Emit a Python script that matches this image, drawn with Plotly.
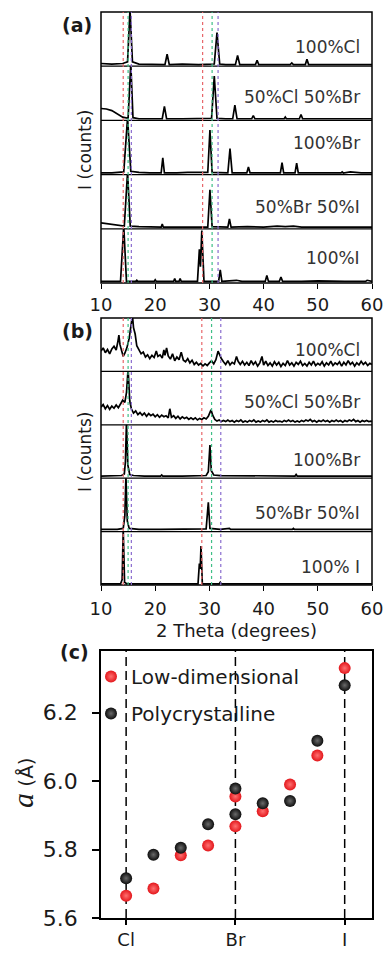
import plotly.graph_objects as go

# ---------------- data ----------------
two_theta_ticks = [10, 20, 30, 40, 50, 60]
labels_a = ["100%Cl", "50%Cl 50%Br", "100%Br", "50%Br 50%I", "100%I"]
labels_b = ["100%Cl", "50%Cl 50%Br", "100%Br", "50%Br 50%I", "100% I"]

# panel (a): (2theta, normalized intensity)
a_cl = [(10, 0.05), (12, 0.04), (14, 0.05), (14.9, 0.08), (15.35, 1.05), (15.8, 0.08), (17, 0.04), (19.5, 0.03),
        (21.8, 0.03), (22.2, 0.22), (22.6, 0.03), (25, 0.04), (28, 0.03), (30.9, 0.04), (31.4, 0.62), (31.9, 0.04),
        (33, 0.03), (34.8, 0.03), (35.2, 0.20), (35.6, 0.03), (37, 0.03), (38.5, 0.03), (38.8, 0.11), (39.1, 0.03),
        (42, 0.03), (44.9, 0.03), (45.2, 0.06), (45.5, 0.03), (47.7, 0.03), (48.0, 0.13), (48.3, 0.03), (51, 0.03),
        (54, 0.04), (57, 0.03), (60, 0.03)]
a_clbr = [(10, 0.22), (11, 0.21), (12, 0.18), (13, 0.12), (14, 0.06), (15, 0.04), (15.5, 1.05), (15.9, 0.05),
          (17, 0.03), (19, 0.03), (21.3, 0.03), (21.7, 0.26), (22.1, 0.03), (25, 0.03), (28, 0.03), (30.4, 0.04),
          (30.9, 0.82), (31.4, 0.04), (33, 0.03), (34.3, 0.03), (34.7, 0.28), (35.1, 0.03), (37.8, 0.03), (38.1, 0.09),
          (38.4, 0.03), (41, 0.03), (43.8, 0.03), (44.0, 0.06), (44.2, 0.03), (46.6, 0.03), (46.9, 0.11), (47.2, 0.03),
          (50, 0.03), (53, 0.04), (56, 0.03), (60, 0.03)]
a_br = [(10, 0.03), (12, 0.03), (14.2, 0.05), (14.9, 1.05), (15.5, 0.06), (17, 0.04), (19, 0.03), (21.1, 0.03),
        (21.4, 0.31), (21.7, 0.03), (24, 0.03), (26, 0.04), (29.7, 0.04), (30.1, 0.82), (30.5, 0.04), (32, 0.03),
        (33.4, 0.03), (33.8, 0.48), (34.2, 0.03), (36.9, 0.03), (37.2, 0.14), (37.5, 0.03), (40, 0.03), (43.1, 0.03),
        (43.4, 0.22), (43.7, 0.03), (45.8, 0.03), (46.1, 0.21), (46.4, 0.03), (50, 0.03), (54.3, 0.03), (54.5, 0.05),
        (54.7, 0.03), (56, 0.05), (58, 0.03), (60, 0.03)]
a_bri = [(10, 0.11), (11.5, 0.09), (13, 0.06), (14.3, 0.05), (14.9, 1.05), (15.4, 0.05), (17, 0.04), (19, 0.03),
         (21.1, 0.03), (21.3, 0.09), (21.5, 0.03), (25, 0.03), (28, 0.03), (29.7, 0.03), (30.1, 0.72), (30.5, 0.04),
         (33.4, 0.03), (33.7, 0.18), (34.0, 0.03), (37, 0.04), (40, 0.03), (42.5, 0.05), (44, 0.04), (45.5, 0.05),
         (47, 0.03), (50, 0.03), (55, 0.03), (60, 0.03)]
a_i = [(10, 0.03), (13.6, 0.03), (14.2, 1.05), (14.7, 0.03), (16.4, 0.03), (16.6, 0.05), (16.8, 0.03), (19.8, 0.03),
       (20.0, 0.06), (20.2, 0.03), (23.4, 0.03), (23.6, 0.08), (23.8, 0.03), (24.4, 0.03), (24.6, 0.08), (24.8, 0.03),
       (27.8, 0.03), (28.15, 0.62), (28.35, 0.3), (28.6, 0.97), (29.0, 0.03), (31.7, 0.03), (32.0, 0.24), (32.3, 0.03),
       (35, 0.05), (36, 0.03), (40.3, 0.03), (40.6, 0.14), (40.9, 0.03), (42.9, 0.03), (43.2, 0.11), (43.5, 0.03),
       (47, 0.03), (50, 0.04), (55, 0.03), (58.8, 0.03), (59.1, 0.05), (60, 0.03)]

# panel (b)
b_cl = [(10, 0.38), (10.4, 0.44), (10.8, 0.35), (11.2, 0.41), (11.6, 0.33), (12, 0.42), (12.4, 0.47), (12.8, 0.40),
        (13.1, 0.55), (13.3, 0.68), (13.5, 0.50), (13.8, 0.36), (14.1, 0.28), (14.4, 0.34), (14.8, 0.45), (15.2, 0.62),
        (15.6, 0.95), (15.8, 1.05), (16.0, 0.82), (16.3, 0.70), (16.6, 0.48), (17.0, 0.40), (17.4, 0.33), (17.8, 0.36),
        (18.2, 0.27), (18.6, 0.31), (19.0, 0.24), (19.4, 0.30), (19.8, 0.26), (20.2, 0.38), (20.5, 0.28), (20.9, 0.31),
        (21.3, 0.25), (21.6, 0.40), (21.8, 0.30), (22.1, 0.44), (22.4, 0.29), (22.8, 0.23), (23.2, 0.33), (23.6, 0.20),
        (24.0, 0.27), (24.4, 0.22), (24.8, 0.36), (25.2, 0.21), (25.6, 0.18), (26.0, 0.24), (26.4, 0.16), (26.8, 0.21),
        (27.2, 0.13), (27.6, 0.17), (28.0, 0.12), (28.4, 0.15), (28.8, 0.10), (29.2, 0.14), (29.6, 0.11), (30.0, 0.16),
        (30.4, 0.20), (30.8, 0.14), (31.2, 0.22), (31.6, 0.38), (31.9, 0.30), (32.2, 0.24), (32.6, 0.18), (33.0, 0.13),
        (33.4, 0.20), (33.8, 0.12), (34.2, 0.17), (34.6, 0.14), (35.0, 0.28), (35.3, 0.19), (35.7, 0.13), (36.1, 0.19),
        (36.5, 0.12), (36.9, 0.17), (37.3, 0.11), (37.7, 0.20), (38.1, 0.13), (38.5, 0.18), (38.9, 0.10), (39.3, 0.16),
        (39.7, 0.28), (40.0, 0.12), (40.4, 0.19), (40.8, 0.11), (41.2, 0.16), (41.6, 0.10), (42.0, 0.18), (42.4, 0.12),
        (42.8, 0.17), (43.2, 0.09), (43.6, 0.15), (44.0, 0.11), (44.4, 0.20), (44.8, 0.12), (45.2, 0.16), (45.6, 0.10),
        (46.0, 0.17), (46.4, 0.13), (46.8, 0.19), (47.2, 0.11), (47.6, 0.15), (48.0, 0.10), (48.4, 0.17), (48.8, 0.12),
        (49.2, 0.19), (49.6, 0.11), (50.0, 0.15), (50.4, 0.12), (50.8, 0.18), (51.2, 0.10), (51.6, 0.16), (52.0, 0.12),
        (52.4, 0.19), (52.8, 0.11), (53.2, 0.16), (53.6, 0.13), (54.0, 0.18), (54.4, 0.10), (54.8, 0.17), (55.2, 0.12),
        (55.6, 0.20), (56.0, 0.13), (56.4, 0.17), (56.8, 0.10), (57.2, 0.16), (57.6, 0.12), (58.0, 0.19), (58.4, 0.13),
        (58.8, 0.17), (59.2, 0.11), (59.6, 0.15), (60.0, 0.13)]
b_clbr = [(10, 0.33), (10.4, 0.38), (10.8, 0.30), (11.2, 0.36), (11.6, 0.29), (12, 0.35), (12.4, 0.31), (12.8, 0.37),
          (13.2, 0.32), (13.6, 0.40), (14.0, 0.46), (14.4, 0.42), (14.7, 0.60), (15.0, 1.05), (15.3, 0.45), (15.6, 0.30),
          (16.0, 0.22), (16.4, 0.26), (16.8, 0.19), (17.2, 0.23), (17.6, 0.18), (18.0, 0.22), (18.4, 0.16), (18.8, 0.21),
          (19.2, 0.17), (19.6, 0.20), (20.0, 0.15), (20.4, 0.19), (20.8, 0.14), (21.2, 0.18), (21.6, 0.15), (22.0, 0.17),
          (22.4, 0.13), (22.7, 0.30), (23.0, 0.14), (23.4, 0.17), (23.8, 0.12), (24.2, 0.16), (24.6, 0.11), (25.0, 0.15),
          (25.4, 0.12), (25.8, 0.14), (26.2, 0.10), (26.6, 0.13), (27.0, 0.10), (27.4, 0.13), (27.8, 0.09), (28.2, 0.12),
          (28.6, 0.10), (29.0, 0.13), (29.4, 0.11), (29.8, 0.16), (30.1, 0.24), (30.3, 0.28), (30.6, 0.18), (31.0, 0.10),
          (31.4, 0.07), (31.8, 0.09), (32.2, 0.06), (32.6, 0.08), (33.0, 0.06), (33.4, 0.09), (33.8, 0.06), (34.2, 0.08),
          (34.6, 0.05), (35.0, 0.08), (35.4, 0.06), (35.8, 0.09), (36.2, 0.05), (36.6, 0.07), (37.0, 0.05), (37.4, 0.08),
          (37.8, 0.06), (38.2, 0.09), (38.6, 0.05), (39.0, 0.07), (39.4, 0.05), (39.8, 0.08), (40.2, 0.06), (40.6, 0.09),
          (41.0, 0.05), (41.4, 0.07), (41.8, 0.05), (42.2, 0.08), (42.6, 0.06), (43.0, 0.07), (43.4, 0.05), (43.8, 0.08),
          (44.2, 0.06), (44.6, 0.09), (45.0, 0.06), (45.4, 0.08), (45.8, 0.05), (46.2, 0.07), (46.6, 0.05), (47.0, 0.08),
          (47.4, 0.06), (47.8, 0.09), (48.2, 0.07), (48.6, 0.10), (49.0, 0.06), (49.4, 0.08), (49.8, 0.05), (50.2, 0.08),
          (50.6, 0.06), (51.0, 0.09), (51.4, 0.06), (51.8, 0.08), (52.2, 0.05), (52.6, 0.08), (53.0, 0.06), (53.4, 0.09),
          (53.8, 0.06), (54.2, 0.08), (54.6, 0.05), (55.0, 0.08), (55.4, 0.06), (55.8, 0.09), (56.2, 0.07), (56.6, 0.10),
          (57.0, 0.06), (57.4, 0.08), (57.8, 0.05), (58.2, 0.08), (58.6, 0.06), (59.0, 0.08), (59.4, 0.06), (59.8, 0.07),
          (60.0, 0.06)]
b_br = [(10, 0.04), (12, 0.04), (13.8, 0.05), (14.3, 0.08), (14.5, 0.3), (14.7, 1.05), (14.95, 0.25), (15.3, 0.07),
        (16, 0.05), (18, 0.04), (21, 0.04), (21.2, 0.06), (21.4, 0.04), (25, 0.04), (28, 0.04), (29.4, 0.05),
        (29.8, 0.12), (30.1, 0.62), (30.35, 0.14), (30.8, 0.06), (32, 0.05), (33.5, 0.05), (36, 0.04), (40, 0.04),
        (43, 0.04), (45.8, 0.04), (46.0, 0.07), (46.2, 0.04), (50, 0.04), (55, 0.04), (60, 0.04)]
b_bri = [(10, 0.04), (13, 0.04), (14.1, 0.06), (14.4, 0.3), (14.6, 1.05), (14.85, 0.2), (15.2, 0.06), (17, 0.04),
         (21, 0.04), (25, 0.04), (28, 0.04), (29.4, 0.05), (29.8, 0.55), (30.1, 0.06), (32, 0.04), (33.5, 0.05),
         (33.7, 0.06), (33.9, 0.04), (38, 0.04), (45.3, 0.04), (45.5, 0.06), (45.7, 0.04), (50, 0.04), (55, 0.04),
         (60, 0.04)]
b_i = [(10, 0.02), (13.6, 0.02), (13.9, 0.1), (14.1, 1.05), (14.35, 0.05), (14.8, 0.02), (17, 0.02), (21, 0.02),
       (25, 0.02), (27.9, 0.02), (28.15, 0.40), (28.3, 0.3), (28.45, 0.73), (28.7, 0.02), (31.8, 0.02), (32.0, 0.05),
       (32.2, 0.02), (40, 0.02), (43, 0.03), (50, 0.02), (55, 0.02), (60, 0.02)]

# reference peak positions (dotted lines)
ref_red_a = [14.1, 28.75]
ref_green_a = [15.0, 30.5]
ref_purple_a = [15.6, 31.6]
ref_red_b = [14.1, 28.6]
ref_green_b = [15.0, 30.4]
ref_purple_b = [15.6, 32.1]

# panel (c): lattice constant vs composition
comp_pos = [0, 0.25, 0.5, 0.75, 1, 1, 1.25, 1.5, 1.75, 2]
comp_ticks = [0, 1, 2]
comp_ticktext = ["Cl", "Br", "I"]
a_low_dim = [5.665, 5.686, 5.783, 5.812, 5.868, 5.955, 5.912, 5.990, 6.075, 6.330]
a_poly = [5.716, 5.785, 5.805, 5.874, 5.903, 5.978, 5.935, 5.942, 6.118, 6.280]
c_yticks = [5.6, 5.8, 6.0, 6.2]

# ---------------- layout helpers ----------------
W, H = 384, 953
def fx(p):
    return p / W
def fy(p):
    return 1 - p / H

FONT = "DejaVu Sans"
INK = "#1a1a1a"
PL, PR = 101, 372
A_TOP, A_BOT = 12, 283
B_TOP, B_BOT = 318, 585
C_TOP, C_BOT = 651, 918
LABEL_Y_A = [47, 97, 143, 207, 258]
LABEL_Y_B = [350, 402, 460, 513, 567]

def stripes(top, bot):
    h = (bot - top) / 5
    return [(top + k * h, top + (k + 1) * h) for k in range(5)]

fig = go.Figure()
layout = dict(width=W, height=H, margin=dict(l=0, r=0, t=0, b=0, autoexpand=False),
              paper_bgcolor="white", plot_bgcolor="rgba(0,0,0,0)",
              showlegend=True, font=dict(family=FONT, color=INK))
shapes = []
annotations = []

panels = [
    ("x", "xaxis", A_TOP, A_BOT, [a_cl, a_clbr, a_br, a_bri, a_i], labels_a, LABEL_Y_A,
     (ref_red_a, ref_green_a, ref_purple_a), 1),
    ("x2", "xaxis2", B_TOP, B_BOT, [b_cl, b_clbr, b_br, b_bri, b_i], labels_b, LABEL_Y_B,
     (ref_red_b, ref_green_b, ref_purple_b), 6),
]
ref_colors = ["#e8666a", "#3fbf86", "#8a6ccf"]

for xref, xkey, top, bot, series, labels, label_y, refs, y0 in panels:
    st = stripes(top, bot)
    for k, (data, (t, b)) in enumerate(zip(series, st)):
        n = y0 + k
        yname = "y" if n == 1 else f"y{n}"
        ykey = "yaxis" if n == 1 else f"yaxis{n}"
        tt, inten = zip(*data)
        fig.add_trace(go.Scatter(x=list(tt), y=list(inten), mode="lines", xaxis=xref, yaxis=yname,
                                 line=dict(color="black", width=1.7), showlegend=False, hoverinfo="skip"))
        layout[ykey] = dict(domain=[fy(b), fy(t)], range=[0, 1.0], anchor=xref, visible=False, fixedrange=True)
        if k > 0:
            shapes.append(dict(type="line", xref="paper", yref="paper", x0=fx(PL), x1=fx(PR),
                               y0=fy(t), y1=fy(t), line=dict(color="black", width=1.2)))
        annotations.append(dict(text=labels[k], xref="paper", yref="paper", x=fx(362), y=fy(label_y[k]),
                                xanchor="right", yanchor="middle", showarrow=False,
                                font=dict(family=FONT, size=17, color="#333")))
    bottom_y = "y5" if y0 == 1 else "y10"
    layout[xkey] = dict(domain=[fx(PL), fx(PR)], range=[10, 60], anchor=bottom_y,
                        tickvals=two_theta_ticks, ticks="outside", ticklen=5, tickwidth=1.2, tickcolor="black",
                        showgrid=False, zeroline=False, showline=False, automargin=False,
                        tickfont=dict(family=FONT, size=18, color=INK))
    shapes.append(dict(type="rect", xref="paper", yref="paper", x0=fx(PL), x1=fx(PR), y0=fy(bot), y1=fy(top),
                       line=dict(color="black", width=1.5), fillcolor="rgba(0,0,0,0)"))
    for vals, col in zip(refs, ref_colors):
        for v in vals:
            shapes.append(dict(type="line", xref=xref, yref="paper", x0=v, x1=v, y0=fy(bot), y1=fy(top),
                               line=dict(color=col, width=1.2, dash="dot")))

layout["xaxis2"]["ticklabelstandoff"] = 2
layout["xaxis2"]["title"] = dict(text="2 Theta (degrees)", font=dict(family=FONT, size=18, color=INK), standoff=6)

# panel (c)
fig.add_trace(go.Scatter(x=comp_pos, y=a_low_dim, mode="markers", xaxis="x3", yaxis="y11",
                         name="Low-dimensional", legendgroup="low",
                         marker=dict(size=12, color="#e3161b",
                                     gradient=dict(type="radial", color="#ff7070"))))
fig.add_trace(go.Scatter(x=comp_pos, y=a_poly, mode="markers", xaxis="x3", yaxis="y11",
                         name="Polycrystalline", legendgroup="poly",
                         marker=dict(size=12, color="#0d0d0d",
                                     gradient=dict(type="radial", color="#6a6a6a"))))
layout["xaxis3"] = dict(domain=[fx(PL), fx(PR)], range=[-0.23, 2.25], anchor="y11",
                        tickvals=comp_ticks, ticktext=comp_ticktext, ticks="outside", ticklen=5,
                        tickwidth=1.5, tickcolor="black", showline=True, mirror=True, linewidth=1.5,
                        linecolor="black", showgrid=False, zeroline=False, automargin=False,
                        ticklabelstandoff=0, tickfont=dict(family=FONT, size=18, color=INK))
layout["yaxis11"] = dict(domain=[fy(C_BOT), fy(C_TOP)], range=[5.6, 6.38], anchor="x3",
                         tickvals=c_yticks, ticktext=[f"{v:.1f}" for v in c_yticks], ticks="outside",
                         ticklen=7, tickwidth=1.5, tickcolor="black", showline=True, mirror=True,
                         linewidth=1.5, linecolor="black", showgrid=False, zeroline=False, automargin=False,
                         ticklabelstandoff=10, tickfont=dict(family=FONT, size=22, color=INK))
for v in comp_ticks:
    shapes.append(dict(type="line", xref="x3", yref="paper", x0=v, x1=v, y0=fy(C_BOT), y1=fy(C_TOP),
                       line=dict(color="black", width=1.5, dash="9px,5px"), layer="below"))

layout["legend"] = dict(x=fx(91), y=fy(657), xanchor="left", yanchor="top", bgcolor="rgba(0,0,0,0)",
                        font=dict(family=FONT, size=20, color=INK), itemwidth=30, tracegroupgap=8)

# titles and panel labels
for txt, xx, yy in [("(a)", 77, 25), ("(b)", 77, 331), ("(c)", 74, 652)]:
    annotations.append(dict(text=f"<b>{txt}</b>", xref="paper", yref="paper", x=fx(xx), y=fy(yy),
                            xanchor="center", yanchor="middle", showarrow=False,
                            font=dict(family=FONT, size=19, color=INK)))
for yy in [150, 452]:
    annotations.append(dict(text="I (counts)", xref="paper", yref="paper", x=fx(85), y=fy(yy),
                            xanchor="center", yanchor="middle", textangle=-90, showarrow=False,
                            font=dict(family=FONT, size=17, color=INK)))
annotations.append(dict(text="<span style='font-family:Liberation Serif;font-size:30px'><i>a</i></span> (Å)",
                        xref="paper", yref="paper", x=fx(22), y=fy(783), xanchor="center", yanchor="middle",
                        textangle=-90, showarrow=False, font=dict(family=FONT, size=20, color=INK)))

layout["shapes"] = shapes
layout["annotations"] = annotations
fig.update_layout(**layout)
fig.write_html("out.html")
